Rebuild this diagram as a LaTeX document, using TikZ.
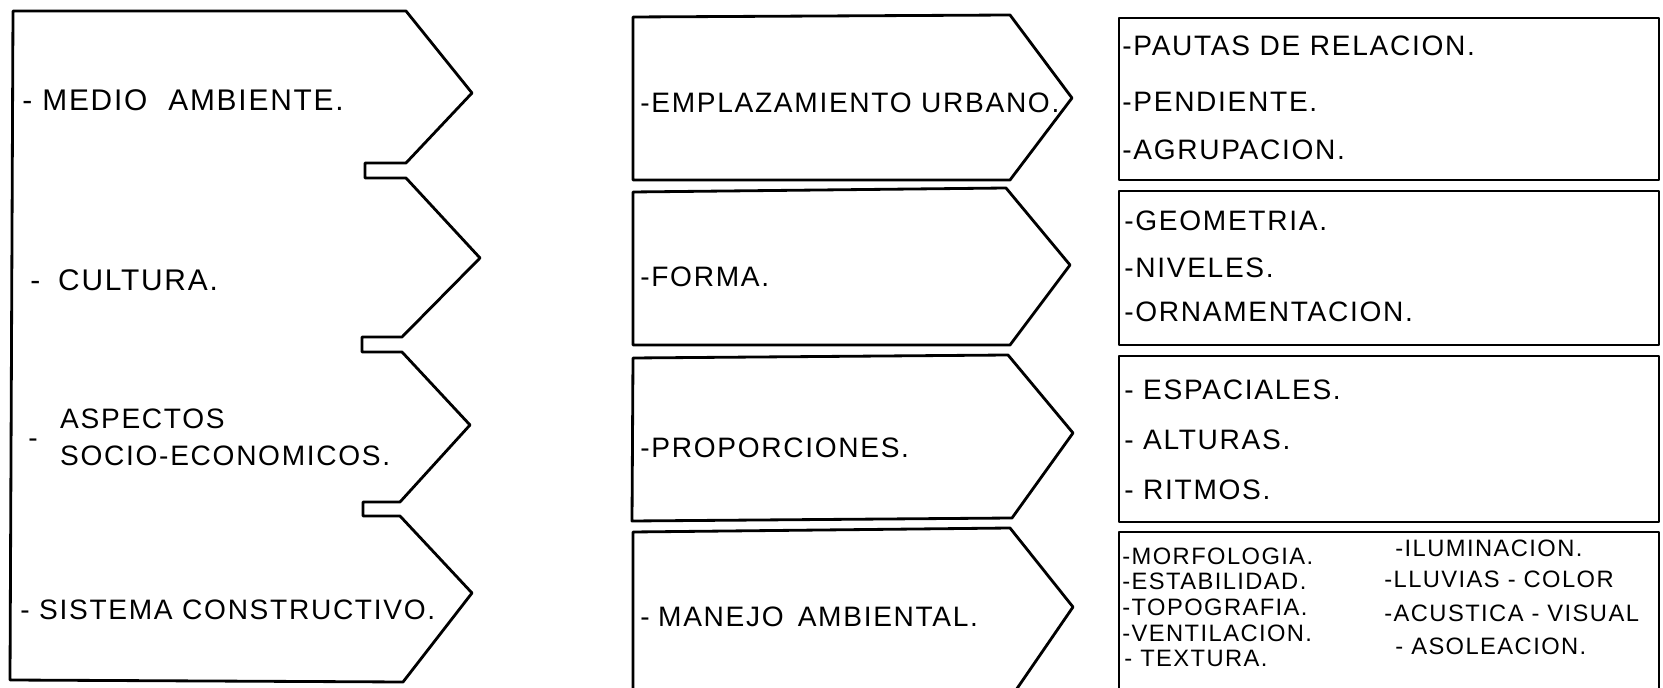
\documentclass[tikz,border=0pt]{standalone}
\usepackage{fontspec}
\setmainfont{Liberation Sans}[LetterSpace=6.0]
\usetikzlibrary{positioning}
\tikzset{
  outline/.style={draw=black, line width=1.6pt, line join=round},
  itemtxt/.style={anchor=west, inner sep=0pt, font=\fontsize{16}{19}\selectfont},
  subtxt/.style={anchor=west, inner sep=0pt, font=\fontsize{13.5}{15}\selectfont}
}

\begin{document}
\begin{tikzpicture}[x=0.02cm, y=-0.02cm]
  \useasboundingbox (0,0) rectangle (1663,688);

  % left column: one notched outline
  \draw[outline] (13,11) -- (406,11) -- (472,93) -- (406,163) -- (365,163) -- (365,178)
    -- (406,178) -- (480,258) -- (402,337) -- (362,337) -- (362,352) -- (402,352)
    -- (470,425) -- (400,502) -- (363,502) -- (363,516) -- (400,516) -- (472,593)
    -- (403,682) -- (10,680) -- cycle;

  \node[itemtxt, font=\fontsize{17}{20}\selectfont] (medio) at (22,100) {- MEDIO\hspace{0.7em}AMBIENTE.};
  \node[itemtxt, font=\fontsize{17}{20}\selectfont] (cultura) at (30,280) {-\hspace{0.6em}CULTURA.};
  \node[itemtxt] (aspectos) at (28,440)
    {-\hspace{0.8em}\begin{tabular}{@{}l@{}}ASPECTOS\\[2pt]SOCIO-ECONOMICOS.\end{tabular}};
  \node[itemtxt] (sistema) at (20,610) {- SISTEMA CONSTRUCTIVO.};

  % middle column
  \draw[outline] (633,17) -- (1010,15) -- (1072,98) -- (1010,180) -- (633,180) -- cycle;
  \draw[outline] (633,192) -- (1006,188) -- (1070,265) -- (1010,345) -- (633,345) -- cycle;
  \draw[outline] (633,358) -- (1008,355) -- (1073,433) -- (1012,518) -- (632,521) -- cycle;
  \draw[outline] (633,690) -- (633,532) -- (1010,528) -- (1073,607) -- (1016,690);

  \node[itemtxt] (emplaz) at (640,103) {-EMPLAZAMIENTO URBANO.};
  \node[itemtxt] (forma) at (640,277) {-FORMA.};
  \node[itemtxt] (proporc) at (640,448) {-PROPORCIONES.};
  \node[itemtxt] (manejo) at (640,617) {-\hspace{0.3em}MANEJO\hspace{0.5em}AMBIENTAL.};

  % right column
  \draw[outline] (1119,18) rectangle (1659,180);
  \draw[outline] (1119,191) rectangle (1659,345);
  \draw[outline] (1119,356) rectangle (1659,522);
  \draw[outline] (1119,690) -- (1119,532) -- (1659,532) -- (1659,690);

  \node[itemtxt] (pautas) at (1122,46) {-PAUTAS DE RELACION.};
  \node[itemtxt] (pendiente) at (1122,102) {-PENDIENTE.};
  \node[itemtxt] (agrup) at (1122,150) {-AGRUPACION.};
  \node[itemtxt] (geometria) at (1124,221) {-GEOMETRIA.};
  \node[itemtxt] (niveles) at (1124,268) {-NIVELES.};
  \node[itemtxt] (ornam) at (1124,312) {-ORNAMENTACION.};
  \node[itemtxt] (espaciales) at (1124,390) {- ESPACIALES.};
  \node[itemtxt] (alturas) at (1124,440) {- ALTURAS.};
  \node[itemtxt] (ritmos) at (1124,490) {- RITMOS.};

  \node[subtxt] (morfo) at (1122,556) {-MORFOLOGIA.};
  \node[subtxt] (estab) at (1122,581) {-ESTABILIDAD.};
  \node[subtxt] (topo) at (1122,607) {-TOPOGRAFIA.};
  \node[subtxt] (venti) at (1122,633) {-VENTILACION.};
  \node[subtxt] (textura) at (1124,658) {- TEXTURA.};
  \node[subtxt] (ilumin) at (1395,548) {-ILUMINACION.};
  \node[subtxt] (lluvias) at (1384,579) {-LLUVIAS - COLOR};
  \node[subtxt] (acustica) at (1384,613) {-ACUSTICA - VISUAL};
  \node[subtxt] (asolea) at (1395,646) {- ASOLEACION.};
\end{tikzpicture}
\end{document}
